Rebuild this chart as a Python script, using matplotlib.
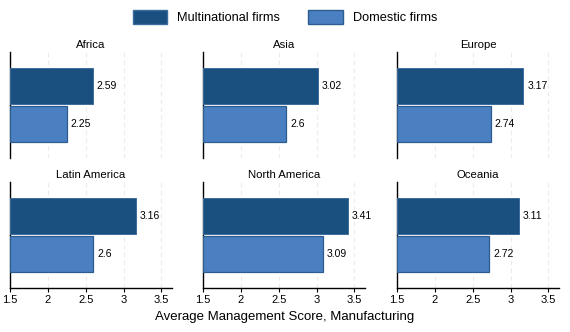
# management scores by region, multinational vs domestic

import matplotlib
matplotlib.use("Agg")
import matplotlib.pyplot as plt
from matplotlib.patches import Patch

regions = ["Africa", "Asia", "Europe", "Latin America", "North America", "Oceania"]
multinational = [2.59, 3.02, 3.17, 3.16, 3.41, 3.11]
domestic = [2.25, 2.6, 2.74, 2.6, 3.09, 2.72]
xticks = [1.5, 2, 2.5, 3, 3.5]
xticklabels = ["1.5", "2", "2.5", "3", "3.5"]

DARK = "#1a5080"
LIGHT = "#4a80c2"

plt.rcParams['font.family'] = ['Liberation Sans', 'DejaVu Sans']

W, H = 570, 332
fig = plt.figure(figsize=(W/100, H/100), dpi=100)

lefts = [10, 203, 397]
tops = [52, 182]
pw, ph = 162, 106

for i, reg in enumerate(regions):
    r, c = divmod(i, 3)
    x0 = lefts[c]
    y0 = tops[r]
    ax = fig.add_axes([x0/W, 1 - (y0+ph)/H, pw/W, ph/H])
    ax.barh(1, multinational[i] - 1.5, left=1.5, height=0.95, color=DARK,
            edgecolor="#3d6d9c", linewidth=0.7, zorder=3)
    ax.barh(0, domestic[i] - 1.5, left=1.5, height=0.95, color=LIGHT,
            edgecolor="#2c5d8e", linewidth=0.9, zorder=3)
    for yv, v in [(1, multinational[i]), (0, domestic[i])]:
        ax.text(v + 0.05, yv, f"{v:g}", va="center", ha="left", fontsize=7.5)
    ax.set_xlim(1.5, 3.64)
    ax.set_ylim(-0.895, 1.895)
    ax.set_yticks([])
    for xv in xticks:
        ax.axvline(xv, color="#ececec", lw=0.8, ls=(0, (4, 3)), zorder=1)
    ax.spines["top"].set_visible(False)
    ax.spines["right"].set_visible(False)
    ax.spines["left"].set_linewidth(1.0)
    ax.set_title(reg, fontsize=8.2, pad=3)
    if r == 1:
        ax.set_xticks(xticks)
        ax.set_xticklabels(xticklabels, fontsize=8)
        ax.tick_params(axis="x", length=3, width=0.8, pad=2)
        ax.spines["bottom"].set_linewidth(1.0)
    else:
        ax.set_xticks([])
        ax.spines["bottom"].set_visible(False)

fig.text(0.5, 1 - 317/H, "Average Management Score, Manufacturing",
         ha="center", va="center", fontsize=9.5)

handles = [Patch(facecolor=DARK, edgecolor="#3d6d9c", label="Multinational firms"),
           Patch(facecolor=LIGHT, edgecolor="#2c5d8e", label="Domestic firms")]
fig.legend(handles=handles, loc="center", bbox_to_anchor=(0.5, 1 - 17/H),
           ncol=2, frameon=False, fontsize=9.2, handlelength=2.7, handleheight=1.3,
           columnspacing=2.2, handletextpad=0.8)

fig.savefig("out.png", dpi=100)
